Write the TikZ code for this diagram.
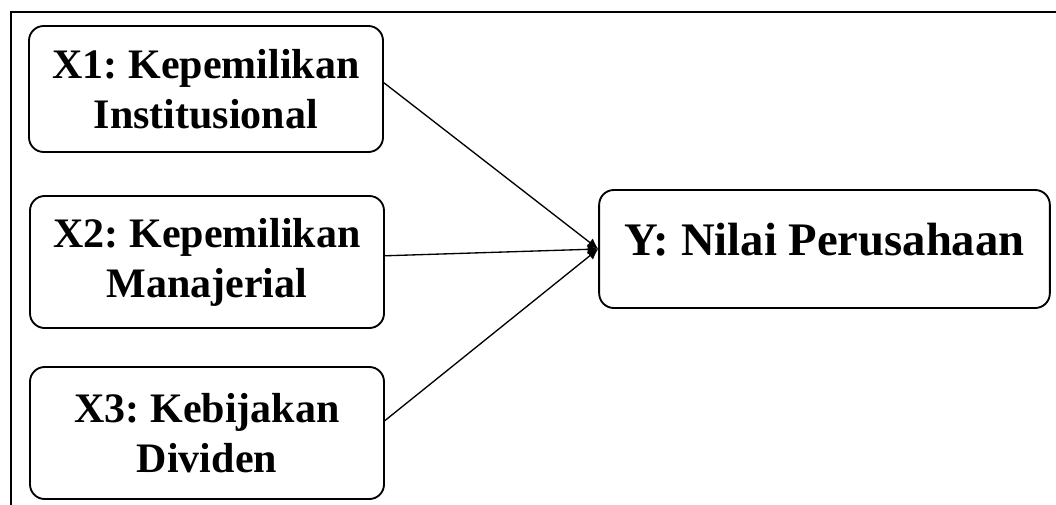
\documentclass[tikz,border=0pt]{standalone}
\usepackage{fontspec}
\setmainfont{Liberation Serif}
\usetikzlibrary{arrows.meta}
\frenchspacing
\tikzset{
  frame/.style={draw, line width=1.5pt},
  varbox/.style={draw, line width=1.4pt, rounded corners=11pt, fill=white, align=center, minimum width=265.5pt, minimum height=99pt, font=\bfseries\fontsize{31.5}{37.5}\selectfont},
  outcome/.style={draw, line width=1.4pt, rounded corners=11pt, fill=white, minimum width=338pt, minimum height=88.5pt, text height=27pt, text depth=18pt, font=\bfseries\fontsize{35}{40}\selectfont},
  influence/.style={-{Latex[length=8pt,width=7.5pt]}, line width=1pt},
}
\begin{document}
\begin{tikzpicture}[x=0.75pt,y=-0.75pt]
  \useasboundingbox (0,0) rectangle (1056,504);
  % outer frame
  \draw[frame] (11,12) rectangle (1070,520);

  % independent variables
  \node[varbox, minimum height=94.5pt] (x1) at (206,89)  {X1: Kepemilikan\\Institusional};
  \node[varbox] (x2) at (207,262) {X2: Kepemilikan\\Manajerial};
  \node[varbox] (x3) at (207,433) {X3: Kebijakan\\Dividen};

  % dependent variable
  \node[outcome] (y) at (824.5,249) {Y: Nilai Perusahaan};

  % paths
  \draw[influence] (x1.2) -- (y.west);
  \draw[influence] (x2.2) -- (y.west);
  \draw[influence] (x3.4) -- (y.west);
\end{tikzpicture}
\end{document}
